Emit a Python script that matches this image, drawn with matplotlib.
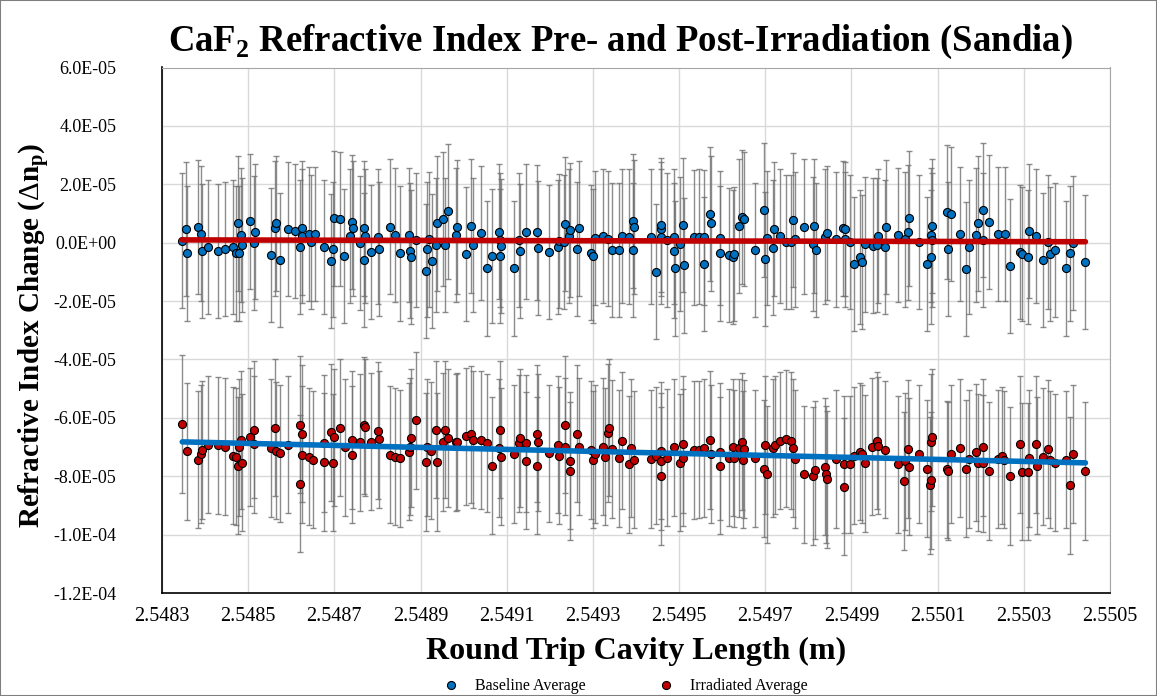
import numpy as np
import matplotlib
matplotlib.use("Agg")
import matplotlib.pyplot as plt
from matplotlib.ticker import FuncFormatter, MultipleLocator
from matplotlib.patches import Rectangle

plt.rcParams['font.family'] = ['Liberation Serif', 'DejaVu Serif']
plt.rcParams['mathtext.fontset'] = 'custom'
plt.rcParams['mathtext.rm'] = 'Liberation Serif'
plt.rcParams['mathtext.bf'] = 'Liberation Serif:bold'

# --- Baseline average (x in m, dn in 1e-5) ---
base_x = [
    2.548347, 2.548355, 2.548357, 2.548384, 2.548390, 2.548392, 2.548407, 2.548431, 2.548446, 2.548465,
    2.548472, 2.548476, 2.548479, 2.548483, 2.548485, 2.548504, 2.548513, 2.548515, 2.548552, 2.548562,
    2.548564, 2.548573, 2.548593, 2.548608, 2.548621, 2.548624, 2.548625, 2.548641, 2.548645, 2.548655,
    2.548675, 2.548693, 2.548696, 2.548699, 2.548713, 2.548723, 2.548737, 2.548740, 2.548743, 2.548760,
    2.548768, 2.548769, 2.548771, 2.548785, 2.548801, 2.548804, 2.548828, 2.548840, 2.548852, 2.548873,
    2.548875, 2.548879, 2.548889, 2.548913, 2.548914, 2.548919, 2.548927, 2.548937, 2.548938, 2.548952,
    2.548956, 2.548964, 2.548983, 2.548985, 2.549006, 2.549018, 2.549022,
    2.549041, 2.549054, 2.549066, 2.549081, 2.549084, 2.549085, 2.549086, 2.549118, 2.549128, 2.549130,
    2.549144, 2.549171, 2.549172, 2.549197, 2.549219, 2.549221, 2.549234, 2.549235, 2.549245, 2.549246,
    2.549263, 2.549267, 2.549296, 2.549301, 2.549306, 2.549323, 2.549336, 2.549344, 2.549361, 2.549368,
    2.549383, 2.549392, 2.549394, 2.549396,
    2.549435, 2.549446, 2.549457, 2.549458, 2.549459, 2.549473, 2.549488, 2.549489, 2.549490, 2.549503,
    2.549508, 2.549511, 2.549534, 2.549547, 2.549557, 2.549558, 2.549572, 2.549573, 2.549595, 2.549596,
    2.549616, 2.549626, 2.549628, 2.549640, 2.549647, 2.549651, 2.549677, 2.549696, 2.549700, 2.549705,
    2.549717, 2.549721, 2.549735, 2.549748, 2.549759, 2.549765,
    2.549769, 2.549790, 2.549810, 2.549813, 2.549817, 2.549839, 2.549844, 2.549864, 2.549881, 2.549884,
    2.549885, 2.549897, 2.549905, 2.549919, 2.549924, 2.549932, 2.549949, 2.549960, 2.549962, 2.549979,
    2.549981, 2.550009, 2.550024, 2.550032, 2.550034, 2.550057, 2.550076, 2.550084, 2.550085, 2.550086,
    2.550087, 2.550122, 2.550125, 2.550130,
    2.550153, 2.550165, 2.550173, 2.550188, 2.550193, 2.550205, 2.550206, 2.550219, 2.550241, 2.550256,
    2.550269, 2.550291, 2.550296, 2.550310, 2.550312, 2.550329, 2.550345, 2.550356, 2.550360, 2.550373,
    2.550397, 2.550407, 2.550414, 2.550443,
]
base_dn = [
    0.07, 0.46, -0.37, 0.53, 0.31, -0.29, -0.15, -0.29, -0.22, -0.15,
    -0.37, 0.66, -0.37, 0.27, -0.08, 0.73, 0.00, 0.38, -0.43, 0.49,
    0.66, -0.59, 0.48, 0.41, -0.16, 0.51, 0.24, 0.30, 0.02, 0.30,
    -0.15, -0.63, -0.23, 0.83, 0.80, -0.46, 0.24, 0.70, 0.49, 0.00,
    -0.59, 0.49, 0.24, -0.32, 0.21, -0.22, 0.55, 0.27, -0.37, 0.27,
    -0.27, -0.50, 0.09, -0.96, -0.23, 0.11, -0.64, -0.08, 0.66, 0.80,
    -0.09, 1.07, 0.27, 0.53, -0.40, 0.58, -0.07,
    0.34, -0.88, -0.46, 0.38, -0.46, 0.09, -0.11, -0.88, 0.09, -0.29,
    0.38, 0.35, -0.19, -0.33, -0.14, 0.06, 0.03, 0.63, 0.24, 0.43,
    -0.22, 0.49, -0.34, -0.46, 0.17, 0.24, 0.14, -0.25, -0.25, 0.24,
    0.21, -0.25, 0.74, 0.53,
    0.21, -0.99, 0.47, 0.61, 0.21, 0.09, -0.27, 0.21, -0.88, -0.05,
    0.61, -0.78, 0.18, 0.21, 0.18, -0.74, 0.98, 0.66, -0.37, 0.17,
    -0.42, -0.50, -0.40, 0.58, 0.89, 0.80, -0.25, 1.12, -0.56, 0.17,
    -0.17, 0.46, 0.24, 0.03, 0.03, 0.78,
    0.11, 0.55, -0.05, 0.58, -0.25, 0.21, 0.32, 0.11, 0.49, 0.47,
    0.11, 0.03, -0.74, -0.50, -0.67, -0.06, -0.10, -0.09, 0.23, -0.14,
    0.53, 0.26, 0.11, 0.35, 0.83, 0.03, -0.74, 0.27, -0.48, 0.09,
    0.58, 1.06, -0.22, 0.98,
    0.30, -0.91, -0.16, 0.26, 0.66, 1.12, 0.09, 0.70, 0.30, 0.30,
    -0.80, -0.31, -0.40, -0.50, 0.41, 0.23, -0.59, 0.03, -0.40, -0.25,
    -0.88, -0.37, 0.00, -0.67,
]
base_err = 2.30  # half-width of error bars, 1e-5

# --- Irradiated average ---
irr_x = [
    2.548347, 2.548357, 2.548384, 2.548390, 2.548392, 2.548407, 2.548431, 2.548446, 2.548465, 2.548472,
    2.548476, 2.548479, 2.548483, 2.548485, 2.548504, 2.548513, 2.548514, 2.548552, 2.548562, 2.548564,
    2.548573, 2.548593, 2.548620, 2.548621, 2.548624, 2.548625, 2.548641, 2.548651,
    2.548675, 2.548676, 2.548693, 2.548696, 2.548699, 2.548713, 2.548724, 2.548740, 2.548742, 2.548760,
    2.548768, 2.548771, 2.548786, 2.548801, 2.548804, 2.548828, 2.548840, 2.548852, 2.548873, 2.548875,
    2.548879, 2.548889, 2.548913, 2.548915, 2.548925, 2.548937, 2.548938, 2.548952, 2.548956, 2.548964,
    2.548983, 2.548985, 2.549006, 2.549018, 2.549022,
    2.549041, 2.549054, 2.549066, 2.549081, 2.549085, 2.549086, 2.549118, 2.549128, 2.549130, 2.549144,
    2.549145, 2.549170, 2.549171, 2.549172, 2.549197, 2.549219, 2.549221, 2.549235, 2.549236, 2.549246,
    2.549247, 2.549263, 2.549267, 2.549296, 2.549301, 2.549306, 2.549323, 2.549329, 2.549334, 2.549338,
    2.549344, 2.549361, 2.549368, 2.549383, 2.549389, 2.549396,
    2.549435, 2.549446, 2.549457, 2.549458, 2.549459, 2.549473, 2.549489, 2.549503, 2.549508, 2.549510,
    2.549534, 2.549547, 2.549557, 2.549572, 2.549573, 2.549595, 2.549596, 2.549616, 2.549626, 2.549628,
    2.549640, 2.549647, 2.549648, 2.549651, 2.549677, 2.549696, 2.549700, 2.549705, 2.549717, 2.549722,
    2.549735, 2.549748, 2.549759, 2.549765,
    2.549769, 2.549790, 2.549810, 2.549816, 2.549839, 2.549842, 2.549844, 2.549864, 2.549882, 2.549883,
    2.549897, 2.549906, 2.549919, 2.549924, 2.549932, 2.549947, 2.549960, 2.549962, 2.549979, 2.550009,
    2.550023, 2.550024, 2.550032, 2.550034, 2.550057, 2.550076, 2.550083, 2.550084, 2.550085, 2.550086,
    2.550122, 2.550125, 2.550130,
    2.550153, 2.550165, 2.550173, 2.550188, 2.550193, 2.550205, 2.550206, 2.550219, 2.550241, 2.550250,
    2.550254, 2.550269, 2.550291, 2.550295, 2.550310, 2.550312, 2.550329, 2.550330, 2.550345, 2.550356,
    2.550360, 2.550373, 2.550397, 2.550407, 2.550414, 2.550443,
]
irr_dn = [
    -6.21, -7.15, -7.43, -7.24, -7.10, -6.92, -6.94, -6.99, -7.30, -7.33,
    -7.64, -7.01, -6.76, -7.54, -6.66, -6.41, -6.90, -7.03, -6.34, -7.13,
    -7.22, -6.92, -8.25, -6.23, -6.55, -7.26, -7.33, -7.44,
    -6.87, -7.51, -6.49, -7.54, -6.67, -6.34, -7.01, -6.76, -7.26, -6.84,
    -6.26, -6.32, -6.82, -6.44, -6.74, -7.26, -7.33, -7.39, -7.16, -6.99,
    -6.69, -6.09, -7.51, -7.01, -7.13, -6.41, -7.51, -6.83, -6.41, -6.69,
    -6.84, -6.82, -6.63, -6.57, -6.75,
    -6.76, -6.86, -7.64, -7.03, -6.40, -7.33, -7.24, -6.87, -6.69, -6.87,
    -7.47, -7.64, -6.55, -6.84, -7.21, -6.92, -7.30, -6.23, -6.99, -7.47,
    -7.82, -6.55, -6.99, -7.10, -7.44, -7.24, -6.99, -7.33, -6.52, -6.34,
    -7.07, -7.38, -6.78, -7.59, -7.03, -7.44,
    -7.41, -7.30, -7.13, -7.49, -7.99, -7.36, -7.01, -7.53, -6.90, -7.36,
    -7.10, -7.09, -7.03, -6.76, -7.24, -7.64, -7.16, -7.36, -7.01, -7.38,
    -7.03, -6.82, -7.44, -7.07, -7.38, -7.74, -6.93, -7.93, -7.03, -6.93,
    -6.78, -6.72, -6.78, -7.03,
    -7.41, -7.93, -7.99, -7.79, -7.68, -7.93, -8.10, -7.41, -8.36, -7.59,
    -7.59, -7.30, -7.16, -7.24, -7.56, -6.99, -6.78, -6.95, -7.09, -7.59,
    -8.16, -7.49, -7.07, -7.68, -7.24, -7.74, -8.31, -6.84, -8.14, -6.67,
    -7.76, -7.82, -7.24,
    -7.03, -7.74, -7.41, -7.18, -7.53, -7.01, -7.56, -7.82, -7.41, -7.30,
    -7.44, -7.99, -6.90, -7.85, -7.85, -7.38, -6.90, -7.64, -7.33, -7.07,
    -7.44, -7.53, -7.44, -8.31, -7.24, -7.82,
]
irr_err = 2.35

x_ticks = [2.5483, 2.5485, 2.5487, 2.5489, 2.5491, 2.5493, 2.5495, 2.5497, 2.5499, 2.5501, 2.5503, 2.5505]

blue = '#0070C0'
red = '#C00000'

bx = np.array(base_x)
by = np.array(base_dn) * 1e-5
ix = np.array(irr_x)
iy = np.array(irr_dn) * 1e-5

fig = plt.figure(figsize=(11.57, 6.96), dpi=100)
ax = fig.add_axes([162 / 1157, 1 - 593 / 696, (1110 - 162) / 1157, (593 - 67.5) / 696])

for xs, ys, e in [(bx, by, base_err), (ix, iy, irr_err)]:
    ax.errorbar(xs, ys, yerr=e * 1e-5, fmt='none', ecolor='#707070', elinewidth=1.0,
                capsize=2.2, capthick=1.0, alpha=0.8, zorder=2)

ax.plot(bx, by, 'o', ms=5.8, mfc=blue, mec='black', mew=0.8, zorder=3, label='Baseline Average')
ax.plot(ix, iy, 'o', ms=5.8, mfc=red, mec='black', mew=0.8, zorder=3, label='Irradiated Average')

# linear trendlines
for xs, ys, c in [(bx, by, red), (ix, iy, blue)]:
    x0 = xs.mean()
    p = np.polyfit(xs - x0, ys, 1)
    xl = np.array([xs.min(), xs.max()])
    ax.plot(xl, np.polyval(p, xl - x0), color=c, lw=4, solid_capstyle='round', zorder=4)

ax.set_xlim(2.5483, 2.5505)
ax.set_ylim(-1.2e-4, 6e-5)
ax.set_xticks(x_ticks)
ax.yaxis.set_major_locator(MultipleLocator(2e-5))
ax.xaxis.set_major_formatter(FuncFormatter(lambda v, _: f'{v:.4f}'))
ax.yaxis.set_major_formatter(FuncFormatter(lambda v, _: f'{v:.1E}'.replace('-0.0', '0.0')))
ax.tick_params(axis='y', labelsize=13, length=0, pad=33)
ax.tick_params(axis='x', labelsize=14.5, length=0, pad=10)
ax.grid(True, color='#d9d9d9', lw=1)
ax.set_axisbelow(True)
for s in ['left', 'bottom']:
    ax.spines[s].set_color('black')
    ax.spines[s].set_linewidth(1.2)
for s in ['top', 'right']:
    ax.spines[s].set_color('#a6a6a6')

fig.text(0.536, 0.940, r'CaF$_\mathbf{2}$ Refractive Index Pre- and Post-Irradiation (Sandia)',
         ha='center', va='center', fontsize=26.5, fontweight='bold')
ax.set_xlabel('Round Trip Cavity Length (m)', fontsize=23, fontweight='bold', labelpad=8)
ax.set_ylabel(r'Refractive Index Change ($\Delta$n$_\mathbf{p}$)', fontsize=21, fontweight='bold')
ax.yaxis.set_label_coords((52 - 162) / 948, 0.49)

fig.legend(loc='lower center', bbox_to_anchor=(0.537, -0.018), ncol=2, frameon=False,
           fontsize=11.5, columnspacing=4, handletextpad=0.5, markerscale=1.0)

fig.patches.append(Rectangle((0, 0), 1, 1, transform=fig.transFigure, fill=False,
                             edgecolor='#7f7f7f', lw=1.5))

fig.savefig('out.png', dpi=100)
